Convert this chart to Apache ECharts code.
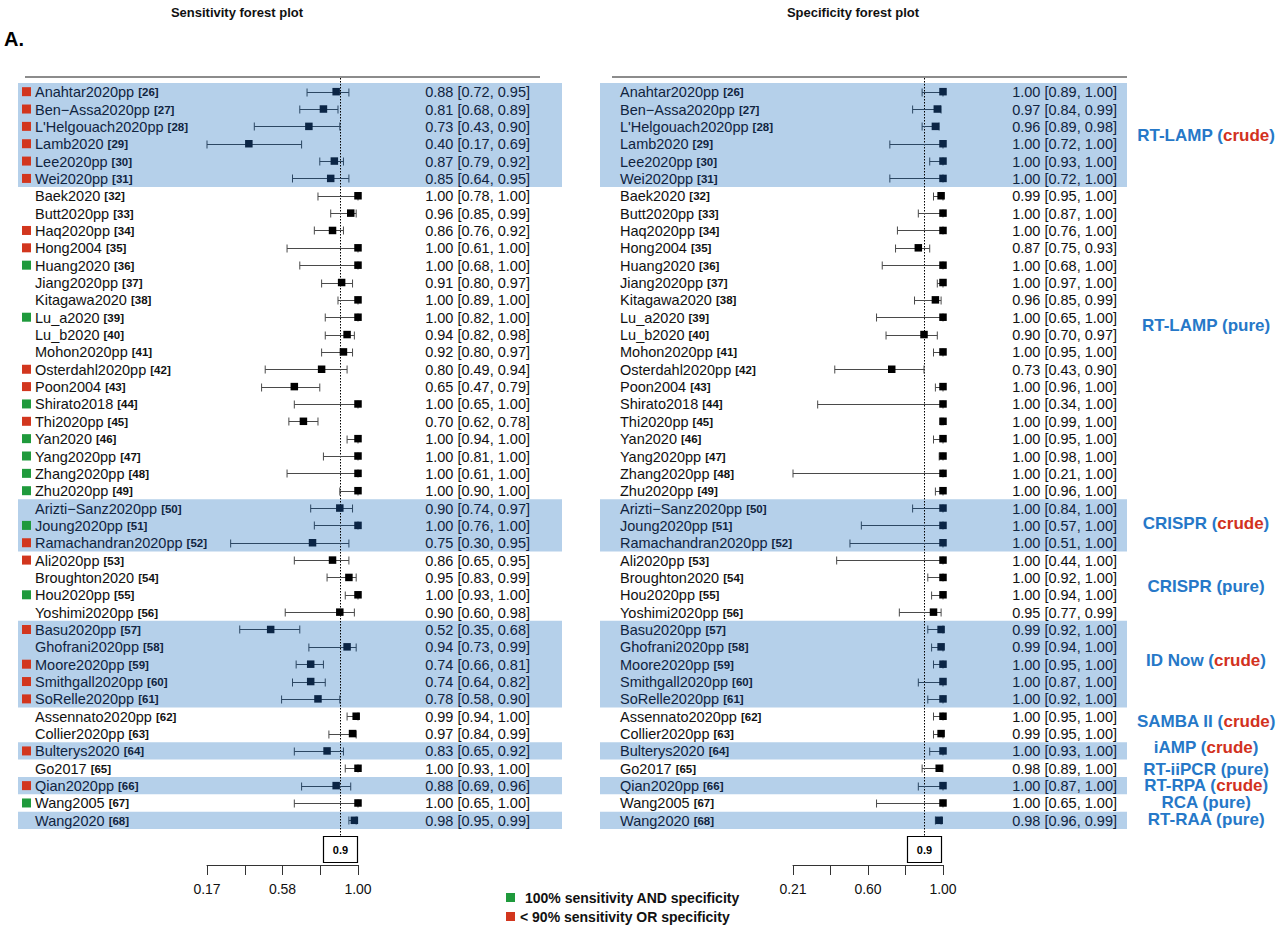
<!DOCTYPE html>
<html><head><meta charset="utf-8">
<script src="https://cdn.jsdelivr.net/npm/echarts@6/dist/echarts.min.js"></script>
<style>html,body{margin:0;padding:0;background:#fff}#c{width:1280px;height:929px}</style>
</head><body><div id="c"></div>
<script>
// ---------------- DATA ----------------
const studies = ['Anahtar2020pp','Ben\u2212Assa2020pp',"L'Helgouach2020pp",'Lamb2020','Lee2020pp','Wei2020pp',
 'Baek2020','Butt2020pp','Haq2020pp','Hong2004','Huang2020','Jiang2020pp','Kitagawa2020','Lu_a2020','Lu_b2020',
 'Mohon2020pp','Osterdahl2020pp','Poon2004','Shirato2018','Thi2020pp','Yan2020','Yang2020pp','Zhang2020pp','Zhu2020pp',
 'Arizti\u2212Sanz2020pp','Joung2020pp','Ramachandran2020pp','Ali2020pp','Broughton2020','Hou2020pp','Yoshimi2020pp',
 'Basu2020pp','Ghofrani2020pp','Moore2020pp','Smithgall2020pp','SoRelle2020pp','Assennato2020pp','Collier2020pp',
 'Bulterys2020','Go2017','Qian2020pp','Wang2005','Wang2020'];
const refs = [26,27,28,29,30,31,32,33,34,35,36,37,38,39,40,41,42,43,44,45,46,47,48,49,50,51,52,53,54,55,56,57,58,59,60,61,62,63,64,65,66,67,68];
// 'r' = < 90% sensitivity OR specificity, 'g' = 100% sensitivity AND specificity
const flags = ['r','r','r','r','r','r','','','r','r','g','','','g','','','r','r','g','r','g','g','g','g',
 '','g','r','r','','g','','r','','r','r','r','','','r','','r','g',''];

const sensEst = [0.88,0.81,0.73,0.40,0.87,0.85,1.00,0.96,0.86,1.00,1.00,0.91,1.00,1.00,0.94,0.92,0.80,0.65,1.00,0.70,1.00,1.00,1.00,1.00,0.90,1.00,0.75,0.86,0.95,1.00,0.90,0.52,0.94,0.74,0.74,0.78,0.99,0.97,0.83,1.00,0.88,1.00,0.98];
const sensLo  = [0.72,0.68,0.43,0.17,0.79,0.64,0.78,0.85,0.76,0.61,0.68,0.80,0.89,0.82,0.82,0.80,0.49,0.47,0.65,0.62,0.94,0.81,0.61,0.90,0.74,0.76,0.30,0.65,0.83,0.93,0.60,0.35,0.73,0.66,0.64,0.58,0.94,0.84,0.65,0.93,0.69,0.65,0.95];
const sensHi  = [0.95,0.89,0.90,0.69,0.92,0.95,1.00,0.99,0.92,1.00,1.00,0.97,1.00,1.00,0.98,0.97,0.94,0.79,1.00,0.78,1.00,1.00,1.00,1.00,0.97,1.00,0.95,0.95,0.99,1.00,0.98,0.68,0.99,0.81,0.82,0.90,1.00,0.99,0.92,1.00,0.96,1.00,0.99];

const specEst = [1.00,0.97,0.96,1.00,1.00,1.00,0.99,1.00,1.00,0.87,1.00,1.00,0.96,1.00,0.90,1.00,0.73,1.00,1.00,1.00,1.00,1.00,1.00,1.00,1.00,1.00,1.00,1.00,1.00,1.00,0.95,0.99,0.99,1.00,1.00,1.00,1.00,0.99,1.00,0.98,1.00,1.00,0.98];
const specLo  = [0.89,0.84,0.89,0.72,0.93,0.72,0.95,0.87,0.76,0.75,0.68,0.97,0.85,0.65,0.70,0.95,0.43,0.96,0.34,0.99,0.95,0.98,0.21,0.96,0.84,0.57,0.51,0.44,0.92,0.94,0.77,0.92,0.94,0.95,0.87,0.92,0.95,0.95,0.93,0.89,0.87,0.65,0.96];
const specHi  = [1.00,0.99,0.98,1.00,1.00,1.00,1.00,1.00,1.00,0.93,1.00,1.00,0.99,1.00,0.97,1.00,0.90,1.00,1.00,1.00,1.00,1.00,1.00,1.00,1.00,1.00,1.00,1.00,1.00,1.00,0.99,1.00,1.00,1.00,1.00,1.00,1.00,1.00,1.00,1.00,1.00,1.00,0.99];

const groupNames = ['RT-LAMP','RT-LAMP','CRISPR','CRISPR','ID Now','SAMBA II','iAMP','RT-iiPCR','RT-RPA','RCA','RT-RAA'];
const groupKinds = ['crude','pure','crude','pure','crude','crude','crude','pure','crude','pure','pure'];
const groupFirst = [0,6,24,27,31,36,38,39,40,41,42];
const groupLast  = [5,23,26,30,35,37,38,39,40,41,42];
const groupLabelRow = [2.5,13.5,24.9,28.5,32.8,36.3,37.8,39.05,40,41,41.95];

const sensTicks = [0.17,0.3775,0.585,0.7925,1.00];
const sensTickLabels = ['0.17','','0.58','','1.00'];
const specTicks = [0.21,0.4075,0.605,0.8025,1.00];
const specTickLabels = ['0.21','','0.60','','1.00'];
const threshold = 0.9;

const legendItems = ['100% sensitivity AND specificity','< 90% sensitivity OR specificity'];

// ---------------- LAYOUT / STYLE ----------------
const FONT = "'Liberation Sans', Arial, Helvetica, sans-serif";
const BAND = '#b5d0ea';
const RED = '#d2361e', GREEN = '#1f9a3c';
const BLUE_LBL = '#2678c8', RED_LBL = '#d2321e';
const TOP = 83, GRID_H = 746, AXIS_Y = 865;
const ROW_FS = 14.5, REF_FS = 11.5;

function groupOf(i){ for (let g=0; g<groupFirst.length; g++) if (i>=groupFirst[g] && i<=groupLast[g]) return g; return -1; }
function shaded(i){ return groupOf(i) % 2 === 0; }
const rows = studies.map((_, i) => i);

const panels = [
  {est:sensEst, lo:sensLo, hi:sensHi, min:0.17, ticks:sensTicks, tickLabels:sensTickLabels,
   gridLeft:207, gridW:151, bandL:18, bandR:562, nameX:35, ciX:530, markers:true, ruleL:25, ruleR:540},
  {est:specEst, lo:specLo, hi:specHi, min:0.21, ticks:specTicks, tickLabels:specTickLabels,
   gridLeft:793, gridW:150, bandL:600, bandR:1127, nameX:620, ciX:1117, markers:false, ruleL:612, ruleR:1127}
];

const grid = [], xAxis = [], yAxis = [], series = [];
panels.forEach((p, pi) => {
  grid.push({left:p.gridLeft, top:TOP, width:p.gridW, height:GRID_H});
  xAxis.push({
    type:'value', gridIndex:pi, min:p.min, max:1.0, position:'bottom', offset:AXIS_Y-(TOP+GRID_H),
    axisLine:{show:true, lineStyle:{color:'#333', width:1}},
    axisTick:{show:true, customValues:p.ticks, length:10, lineStyle:{color:'#333', width:1}},
    axisLabel:{show:true, customValues:p.ticks.filter((t,k)=>p.tickLabels[k]!==''), margin:17,
      fontFamily:FONT, fontSize:14, color:'#111',
      formatter:(v)=>{ let k=0,b=1e9; p.ticks.forEach((t,j)=>{const d=Math.abs(t-v); if(d<b){b=d;k=j;}}); return p.tickLabels[k]; }},
    splitLine:{show:false}
  });
  yAxis.push({type:'category', gridIndex:pi, data:studies, inverse:true, show:false,
    axisLine:{show:false}, axisTick:{show:false}, axisLabel:{show:false}, splitLine:{show:false}});

  // bands
  series.push({
    type:'custom', xAxisIndex:pi, yAxisIndex:pi, z:0, silent:true, clip:false,
    data: groupFirst.map((f,g)=>[1.0, f, groupLast[g], g]),
    renderItem:(params, api)=>{
      const g = api.value(3);
      if (g % 2 !== 0) return null;
      const h = api.size([0,1])[1];
      const y0 = api.coord([1.0, api.value(1)])[1] - h/2;
      const y1 = api.coord([1.0, api.value(2)])[1] + h/2;
      return {type:'rect', shape:{x:p.bandL, y:y0, width:p.bandR-p.bandL, height:y1-y0}, style:{fill:BAND}};
    }
  });
  // confidence intervals
  series.push({
    type:'custom', xAxisIndex:pi, yAxisIndex:pi, z:2, silent:true, clip:false,
    data: rows.map(i=>[p.lo[i], i, p.hi[i]]),
    renderItem:(params, api)=>{
      const i = api.value(1);
      const a = api.coord([api.value(0), i]);
      const b = api.coord([api.value(2), i]);
      const y = Math.round(a[1]) + 0.5;
      const col = shaded(i) ? '#2c4763' : '#4a4a4a';
      const st = {stroke:col, lineWidth:1};
      return {type:'group', children:[
        {type:'line', shape:{x1:a[0], y1:y, x2:b[0], y2:y}, style:st},
        {type:'line', shape:{x1:a[0], y1:y-4, x2:a[0], y2:y+4}, style:st},
        {type:'line', shape:{x1:b[0], y1:y-4, x2:b[0], y2:y+4}, style:st}
      ]};
    }
  });
  // threshold dotted line + box
  series.push({
    type:'custom', xAxisIndex:pi, yAxisIndex:pi, z:1, silent:true, clip:false,
    data:[[threshold, 0]],
    renderItem:(params, api)=>{
      const x = Math.round(api.coord([api.value(0), 0])[0]) + 0.5;
      return {type:'group', children:[
        {type:'line', shape:{x1:x, y1:78, x2:x, y2:836}, style:{stroke:'#000', lineWidth:1, lineDash:[1.5,1.5]}},
        {type:'rect', shape:{x:x-17, y:836.5, width:34, height:26}, style:{fill:'#fff', stroke:'#000', lineWidth:1.2}},
        {type:'text', style:{x:x, y:850, text:String(threshold), font:'bold 11px '+FONT, fill:'#000',
          align:'center', verticalAlign:'middle', textAlign:'center', textVerticalAlign:'middle'}}
      ]};
    }
  });
  // point estimates
  series.push({
    type:'scatter', xAxisIndex:pi, yAxisIndex:pi, z:3, silent:true, symbol:'rect', symbolSize:7.5,
    data: rows.map(i=>[p.est[i], i]),
    itemStyle:{color:(params)=> shaded(params.dataIndex) ? '#0b2545' : '#000', opacity:1}
  });
  // row labels (marker, study name + ref, estimate text)
  series.push({
    type:'custom', xAxisIndex:pi, yAxisIndex:pi, z:3, silent:true, clip:false,
    data: rows.map(i=>[1.0, i]),
    renderItem:(params, api)=>{
      const i = api.value(1);
      const y = api.coord([1.0, i])[1];
      const txtCol = shaded(i) ? '#10243f' : '#111';
      const kids = [];
      if (p.markers && flags[i]) {
        kids.push({type:'rect', shape:{x:22, y:y-4.5, width:9, height:9}, style:{fill: flags[i]==='r' ? RED : GREEN}});
      }
      kids.push({type:'text', style:{x:p.nameX, y:y+0.5, text:'{n|'+studies[i]+'} {r|['+refs[i]+']}',
        font:ROW_FS+'px '+FONT, fill:txtCol, align:'left', verticalAlign:'middle', textAlign:'left', textVerticalAlign:'middle',
        rich:{n:{fontFamily:FONT, fontSize:ROW_FS, fill:txtCol, color:txtCol},
              r:{fontFamily:FONT, fontSize:REF_FS, fontWeight:'bold', fill:txtCol, color:txtCol}}}});
      const t = p.est[i].toFixed(2)+' ['+p.lo[i].toFixed(2)+', '+p.hi[i].toFixed(2)+']';
      kids.push({type:'text', style:{x:p.ciX, y:y+0.5, text:t, font:ROW_FS+'px '+FONT, fill:txtCol,
        align:'right', verticalAlign:'middle', textAlign:'right', textVerticalAlign:'middle'}});
      return {type:'group', children:kids};
    }
  });
});

// group labels at right
series.push({
  type:'custom', xAxisIndex:1, yAxisIndex:1, z:3, silent:true, clip:false,
  data: groupLabelRow.map((r,g)=>[1.0, Math.floor(r), r-Math.floor(r), g]),
  renderItem:(params, api)=>{
    const g = api.value(3);
    const h = api.size([0,1])[1];
    const y = api.coord([1.0, api.value(1)])[1] + api.value(2)*h;
    const kc = groupKinds[g]==='crude' ? RED_LBL : BLUE_LBL;
    return {type:'text', style:{x:1206, y:y, text:'{b|'+groupNames[g]+' (}{c|'+groupKinds[g]+'}{b|)}',
      align:'center', verticalAlign:'middle', textAlign:'center', textVerticalAlign:'middle',
      font:'bold 17px '+FONT, fill:BLUE_LBL,
      rich:{b:{fontFamily:FONT, fontSize:17, fontWeight:'bold', fill:BLUE_LBL, color:BLUE_LBL},
            c:{fontFamily:FONT, fontSize:17, fontWeight:'bold', fill:kc, color:kc}}}};
  }
});

const graphic = [
  {type:'text', x:4, y:39, style:{text:'A.', font:'bold 20px '+FONT, fill:'#000', align:'left', verticalAlign:'middle', textAlign:'left', textVerticalAlign:'middle'}},
  {type:'text', x:237, y:12, style:{text:'Sensitivity forest plot', font:'bold 13px '+FONT, fill:'#111', align:'center', verticalAlign:'middle', textAlign:'center', textVerticalAlign:'middle'}},
  {type:'text', x:853, y:12, style:{text:'Specificity forest plot', font:'bold 13px '+FONT, fill:'#111', align:'center', verticalAlign:'middle', textAlign:'center', textVerticalAlign:'middle'}},
  {type:'line', shape:{x1:panels[0].ruleL, y1:77, x2:panels[0].ruleR, y2:77}, style:{stroke:'#666', lineWidth:1.5}},
  {type:'line', shape:{x1:panels[1].ruleL, y1:77, x2:panels[1].ruleR, y2:77}, style:{stroke:'#666', lineWidth:1.5}},
  {type:'rect', shape:{x:506, y:893, width:9, height:9}, style:{fill:GREEN}},
  {type:'text', x:525, y:898, style:{text:legendItems[0], font:'bold 14px '+FONT, fill:'#111', align:'left', verticalAlign:'middle', textAlign:'left', textVerticalAlign:'middle'}},
  {type:'rect', shape:{x:506, y:912, width:9, height:9}, style:{fill:RED}},
  {type:'text', x:520, y:917, style:{text:legendItems[1], font:'bold 14px '+FONT, fill:'#111', align:'left', verticalAlign:'middle', textAlign:'left', textVerticalAlign:'middle'}}
];

const chart = echarts.init(document.getElementById('c'), null, {renderer:'svg', width:1280, height:929});
chart.setOption({
  animation:false,
  backgroundColor:'#fff',
  grid, xAxis, yAxis, series, graphic
});
</script>
</body></html>
